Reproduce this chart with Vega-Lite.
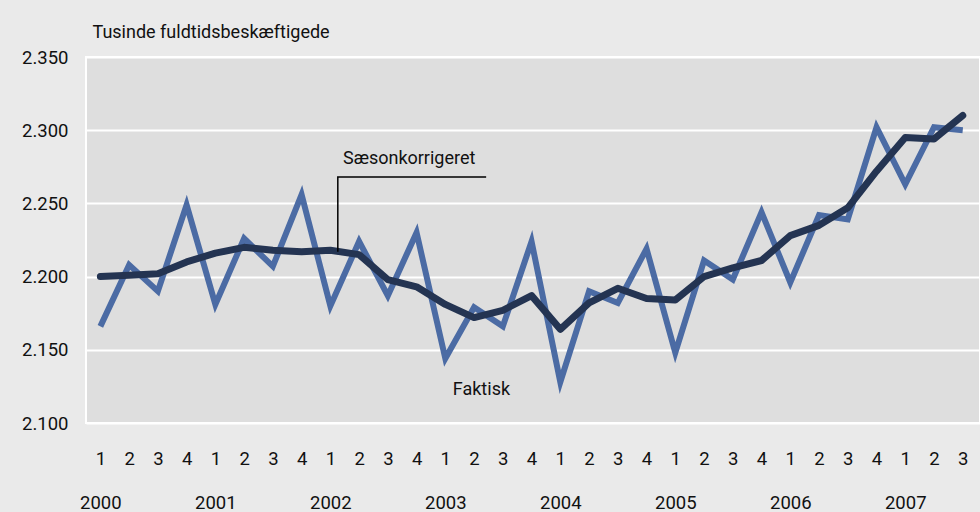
{
  "$schema": "https://vega.github.io/schema/vega-lite/v6.json",
  "width": 894,
  "height": 366,
  "autosize": {"type": "none"},
  "padding": {"left": 86, "top": 57, "right": 0, "bottom": 89},
  "background": "#eaeaea",
  "config": {
    "view": {"fill": "#dedede", "stroke": "white", "strokeWidth": 2},
    "font": "Roboto",
    "axis": {"labelFont": "Roboto", "titleFont": "Roboto", "labelColor": "#111111", "titleColor": "#111111"}
  },
  "datasets": {
    "series": [
      {"x": 0, "s": "Faktisk", "v": 2166}, {"x": 1, "s": "Faktisk", "v": 2208}, {"x": 2, "s": "Faktisk", "v": 2190}, {"x": 3, "s": "Faktisk", "v": 2249},
      {"x": 4, "s": "Faktisk", "v": 2181}, {"x": 5, "s": "Faktisk", "v": 2226}, {"x": 6, "s": "Faktisk", "v": 2207}, {"x": 7, "s": "Faktisk", "v": 2256},
      {"x": 8, "s": "Faktisk", "v": 2180}, {"x": 9, "s": "Faktisk", "v": 2224}, {"x": 10, "s": "Faktisk", "v": 2187}, {"x": 11, "s": "Faktisk", "v": 2230},
      {"x": 12, "s": "Faktisk", "v": 2144}, {"x": 13, "s": "Faktisk", "v": 2179}, {"x": 14, "s": "Faktisk", "v": 2166}, {"x": 15, "s": "Faktisk", "v": 2224},
      {"x": 16, "s": "Faktisk", "v": 2128}, {"x": 17, "s": "Faktisk", "v": 2190}, {"x": 18, "s": "Faktisk", "v": 2182}, {"x": 19, "s": "Faktisk", "v": 2219},
      {"x": 20, "s": "Faktisk", "v": 2148}, {"x": 21, "s": "Faktisk", "v": 2211}, {"x": 22, "s": "Faktisk", "v": 2198}, {"x": 23, "s": "Faktisk", "v": 2244},
      {"x": 24, "s": "Faktisk", "v": 2196}, {"x": 25, "s": "Faktisk", "v": 2242}, {"x": 26, "s": "Faktisk", "v": 2239}, {"x": 27, "s": "Faktisk", "v": 2302},
      {"x": 28, "s": "Faktisk", "v": 2263}, {"x": 29, "s": "Faktisk", "v": 2302}, {"x": 30, "s": "Faktisk", "v": 2300},
      {"x": 0, "s": "Saeson", "v": 2200}, {"x": 1, "s": "Saeson", "v": 2201}, {"x": 2, "s": "Saeson", "v": 2202}, {"x": 3, "s": "Saeson", "v": 2210},
      {"x": 4, "s": "Saeson", "v": 2216}, {"x": 5, "s": "Saeson", "v": 2220}, {"x": 6, "s": "Saeson", "v": 2218}, {"x": 7, "s": "Saeson", "v": 2217},
      {"x": 8, "s": "Saeson", "v": 2218}, {"x": 9, "s": "Saeson", "v": 2215}, {"x": 10, "s": "Saeson", "v": 2198}, {"x": 11, "s": "Saeson", "v": 2193},
      {"x": 12, "s": "Saeson", "v": 2181}, {"x": 13, "s": "Saeson", "v": 2172}, {"x": 14, "s": "Saeson", "v": 2177}, {"x": 15, "s": "Saeson", "v": 2187},
      {"x": 16, "s": "Saeson", "v": 2164}, {"x": 17, "s": "Saeson", "v": 2182}, {"x": 18, "s": "Saeson", "v": 2192}, {"x": 19, "s": "Saeson", "v": 2185},
      {"x": 20, "s": "Saeson", "v": 2184}, {"x": 21, "s": "Saeson", "v": 2200}, {"x": 22, "s": "Saeson", "v": 2206}, {"x": 23, "s": "Saeson", "v": 2211},
      {"x": 24, "s": "Saeson", "v": 2228}, {"x": 25, "s": "Saeson", "v": 2235}, {"x": 26, "s": "Saeson", "v": 2247}, {"x": 27, "s": "Saeson", "v": 2272},
      {"x": 28, "s": "Saeson", "v": 2295}, {"x": 29, "s": "Saeson", "v": 2294}, {"x": 30, "s": "Saeson", "v": 2310}
    ],
    "grid": [{"x": 3.5}, {"x": 7.5}, {"x": 11.5}, {"x": 15.5}, {"x": 19.5}, {"x": 23.5}, {"x": 27.5}],
    "connector": [
      {"o": 0, "x": 8.26, "v": 2217},
      {"o": 1, "x": 8.26, "v": 2268},
      {"o": 2, "x": 13.42, "v": 2268}
    ],
    "labels": [
      {"x": 8.44, "v": 2277, "t": "Sæsonkorrigeret"},
      {"x": 12.26, "v": 2119, "t": "Faktisk"}
    ]
  },
  "encoding": {
    "x": {
      "field": "x", "type": "quantitative",
      "scale": {"domain": [-0.5, 30.6], "nice": false, "zero": false},
      "axis": {
        "values": [0,1,2,3,4,5,6,7,8,9,10,11,12,13,14,15,16,17,18,19,20,21,22,23,24,25,26,27,28,29,30],
        "labelExpr": "datum.value % 4 == 0 ? [toString(datum.value % 4 + 1), toString(2000 + floor(datum.value / 4))] : toString(datum.value % 4 + 1)",
        "grid": false, "domain": false, "ticks": false,
        "labelPadding": 26, "labelBaseline": "top", "labelLineHeight": 44,
        "labelFontSize": 18.5, "labelOverlap": false, "labelBound": false, "labelFlush": false,
        "title": null
      }
    },
    "y": {
      "field": "v", "type": "quantitative",
      "scale": {"domain": [2100, 2350], "nice": false, "zero": false},
      "axis": {
        "values": [2100, 2150, 2200, 2250, 2300, 2350],
        "labelExpr": "replace(format(datum.value, ','), ',', '.')",
        "grid": true, "gridColor": "white", "gridWidth": 2, "gridOpacity": 1,
        "domain": false, "ticks": false,
        "labelPadding": 18, "labelFontSize": 18.5, "labelOverlap": false, "labelBound": false, "labelFlush": false,
        "title": "Tusinde fuldtidsbeskæftigede",
        "titleAngle": 0, "titleAlign": "left", "titleBaseline": "alphabetic",
        "titleX": 6, "titleY": -20, "titleFontSize": 18, "titleFontWeight": "normal"
      }
    }
  },
  "layer": [
    {
      "data": {"name": "grid"},
      "mark": {"type": "rule", "color": "white", "strokeWidth": 2},
      "encoding": {
        "y": {"datum": 2100},
        "y2": {"datum": 2350}
      }
    },
    {
      "data": {"name": "series"},
      "transform": [{"filter": "datum.s == 'Faktisk'"}],
      "mark": {"type": "line", "color": "#4b6ba4", "strokeWidth": 6, "strokeJoin": "miter", "strokeCap": "butt"},
      "encoding": {}
    },
    {
      "data": {"name": "series"},
      "transform": [{"filter": "datum.s == 'Saeson'"}],
      "mark": {"type": "line", "color": "#243452", "strokeWidth": 7, "strokeJoin": "round", "strokeCap": "round"},
      "encoding": {}
    },
    {
      "data": {"name": "connector"},
      "mark": {"type": "line", "color": "black", "strokeWidth": 1.5, "strokeJoin": "miter"},
      "encoding": {
        "order": {"field": "o", "type": "quantitative"}
      }
    },
    {
      "data": {"name": "labels"},
      "mark": {"type": "text", "align": "left", "baseline": "alphabetic", "fontSize": 18, "font": "Roboto", "color": "#111111"},
      "encoding": {
        "text": {"field": "t", "type": "nominal"}
      }
    }
  ]
}
